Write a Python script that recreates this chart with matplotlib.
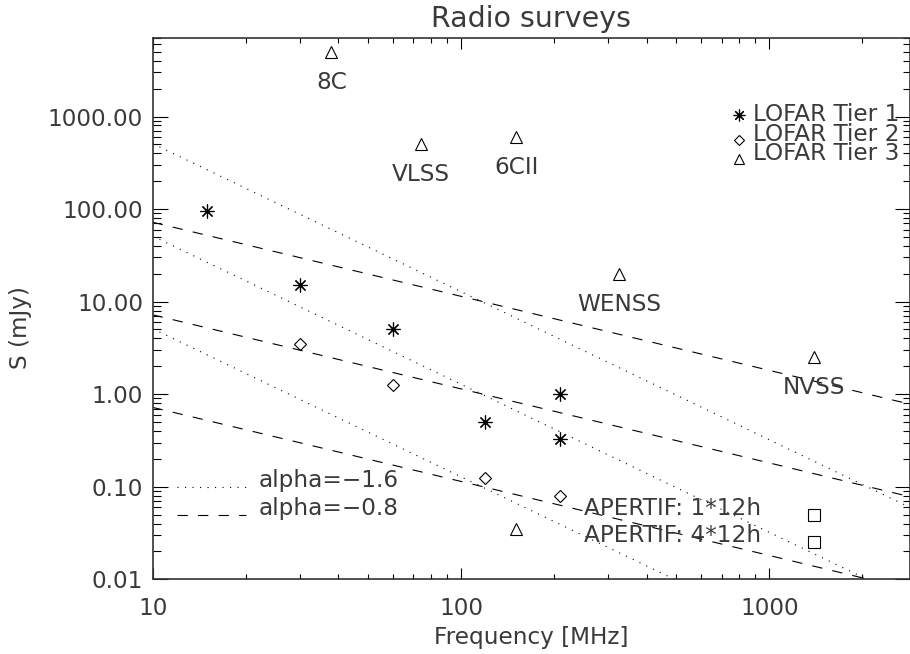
import matplotlib
matplotlib.use("Agg")
import matplotlib.pyplot as plt
import numpy as np
from matplotlib.ticker import FixedLocator, FuncFormatter

plt.rcParams["font.family"] = "DejaVu Sans"
plt.rcParams["lines.scale_dashes"] = False

# LOFAR survey depths
tier1_freq = [15, 30, 60, 120, 210, 210]
tier1_flux = [95, 15, 5, 0.5, 1.0, 0.33]
tier2_freq = [30, 60, 120, 210]
tier2_flux = [3.5, 1.25, 0.125, 0.08]
tier3_freq = [151]
tier3_flux = [0.035]

# existing surveys
survey_names = ["8C", "VLSS", "6CII", "WENSS", "NVSS"]
survey_freq = [38, 74, 151, 325, 1400]
survey_flux = [5000, 500, 600, 20, 2.5]

# APERTIF
apertif_labels = ["APERTIF: 1*12h", "APERTIF: 4*12h"]
apertif_freq = [1400, 1400]
apertif_flux = [0.05, 0.025]

# spectral index reference lines, flux at 10 MHz
alpha_steep = -1.6
alpha_flat = -0.8
norm_steep = [510, 51, 5.1]
norm_flat = [72, 7.2, 0.72]
line_freq = np.array([10.0, 3000.0])

legend_names = ["LOFAR Tier 1", "LOFAR Tier 2", "LOFAR Tier 3"]

ink = "#3a3a3a"
fs = 16.7

fig = plt.figure(figsize=(9.10, 6.54), dpi=100)
ax = fig.add_axes([152.7 / 910, (654 - 579.3) / 654, 756.8 / 910, 541.0 / 654])
ax.set_xscale("log")
ax.set_yscale("log")
ax.set_xlim(10, 2850)
ax.set_ylim(0.01, 7000)

dotted = (0, (0.8, 4.6))
dashed = (0, (7.4, 7.4))
for n in norm_steep:
    ax.plot(line_freq, n * (line_freq / 10.0) ** alpha_steep, color="k", lw=0.8, ls=dotted)
for n in norm_flat:
    ax.plot(line_freq, n * (line_freq / 10.0) ** alpha_flat, color="k", lw=0.8, ls=dashed)

ast = (8, 2, 0)
ax.plot(tier1_freq, tier1_flux, ls="none", marker=ast, ms=10, mew=0.85, color="k")
ax.plot(tier2_freq, tier2_flux, ls="none", marker="D", ms=6.2, mew=0.8, mfc="none", mec="k")
ax.plot(tier3_freq, tier3_flux, ls="none", marker="^", ms=9, mew=0.8, mfc="none", mec="k")
ax.plot(survey_freq, survey_flux, ls="none", marker="^", ms=9, mew=0.8, mfc="none", mec="k")
ax.plot(apertif_freq, apertif_flux, ls="none", marker="s", ms=8.8, mew=0.8, mfc="none", mec="k")

for name, f, s in zip(survey_names, survey_freq, survey_flux):
    ax.annotate(name, (f, s), xytext=(0, -26.5), textcoords="offset points",
                ha="center", va="baseline", fontsize=fs, color=ink)
for lab, s in zip(apertif_labels, apertif_flux):
    ax.text(250, s, lab, ha="left", va="baseline", fontsize=fs, color=ink)

# line style key
ax.plot([12, 20], [0.1, 0.1], color="k", lw=0.8, ls=dotted)
ax.plot([12, 20], [0.05, 0.05], color="k", lw=0.8, ls=dashed)
ax.text(22, 0.1, "alpha=\u22121.6", ha="left", va="baseline", fontsize=fs, color=ink)
ax.text(22, 0.05, "alpha=\u22120.8", ha="left", va="baseline", fontsize=fs, color=ink)

# symbol key, rows set tight like the original
leg_marks = [dict(marker=ast, ms=8.5, mew=0.85, color="k"),
             dict(marker="D", ms=5, mew=0.8, mfc="none", mec="k"),
             dict(marker="^", ms=7.5, mew=0.8, mfc="none", mec="k")]
mark_y = [0.8577, 0.8120, 0.776]
for kw, my in zip(leg_marks, mark_y):
    ax.plot([0.7747], [my], ls="none", transform=ax.transAxes, clip_on=False, **kw)
ax.text(0.7932, 0.7750, "\n".join(legend_names), transform=ax.transAxes,
        ha="left", va="baseline", fontsize=fs, color=ink, linespacing=0.8)

ax.xaxis.set_major_locator(FixedLocator([10, 100, 1000]))
ax.xaxis.set_major_formatter(FuncFormatter(lambda v, p: "%d" % v))
ax.yaxis.set_major_formatter(FuncFormatter(lambda v, p: "%.2f" % v))
ax.tick_params(which="both", direction="in", top=True, right=True, colors="k",
               labelcolor=ink, labelsize=fs, width=0.8)
ax.tick_params(axis="x", which="major", length=7.8, pad=13)
ax.tick_params(axis="x", which="minor", length=3.9)
ax.tick_params(axis="y", which="major", length=10.8, pad=7)
ax.tick_params(axis="y", which="minor", length=5.4)
for sp in ax.spines.values():
    sp.set_linewidth(1.2)
    sp.set_color("#333333")

ax.set_xlabel("Frequency [MHz]", fontsize=fs, color=ink, labelpad=4)
ax.set_ylabel("S (mJy)", fontsize=fs, color=ink, va="center")
ax.yaxis.set_label_coords(-0.175, 0.465)
ax.set_title("Radio surveys", fontsize=20.5, color=ink, pad=8.4)

fig.savefig("out.png", dpi=100)
